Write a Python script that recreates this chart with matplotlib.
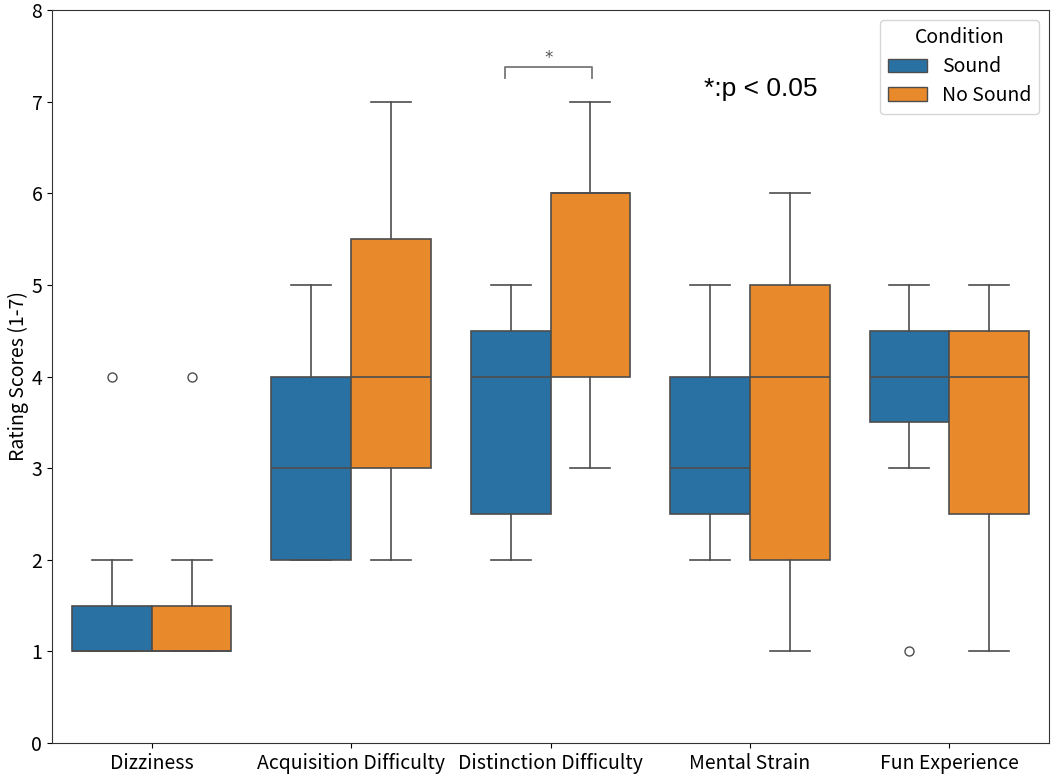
import matplotlib
matplotlib.use("Agg")
import matplotlib.pyplot as plt
from matplotlib.patches import Patch

categories = ["Dizziness", "Acquisition Difficulty", "Distinction Difficulty",
              "Mental Strain", "Fun Experience"]
conditions = ["Sound", "No Sound"]

# per condition: whisker low, Q1, median, Q3, whisker high, fliers
sound_whislo = [1, 2, 2, 2, 3]
sound_q1 = [1, 2, 2.5, 2.5, 3.5]
sound_med = [1, 3, 4, 3, 4]
sound_q3 = [1.5, 4, 4.5, 4, 4.5]
sound_whishi = [2, 5, 5, 5, 5]
sound_fliers = [[4], [], [], [], [1]]

nosound_whislo = [1, 2, 3, 1, 1]
nosound_q1 = [1, 3, 4, 2, 2.5]
nosound_med = [1, 4, 6, 4, 4]
nosound_q3 = [1.5, 5.5, 6, 5, 4.5]
nosound_whishi = [2, 7, 7, 6, 5]
nosound_fliers = [[4], [], [], [], []]

colors = ["#2a71a3", "#e8892c"]
line_c = "#4d4d4d"

plt.rcParams['font.family'] = ['Noto Sans CJK JP', 'DejaVu Sans']

fig = plt.figure(figsize=(10.52, 7.77), dpi=100)
ax = fig.add_axes([52 / 1052, 1 - 743 / 777, 997 / 1052, 733 / 777])

def stats(wl, q1, med, q3, wh, fl):
    return [dict(whislo=a, q1=b, med=c, q3=d, whishi=e, fliers=f)
            for a, b, c, d, e, f in zip(wl, q1, med, q3, wh, fl)]

groups = [
    stats(sound_whislo, sound_q1, sound_med, sound_q3, sound_whishi, sound_fliers),
    stats(nosound_whislo, nosound_q1, nosound_med, nosound_q3, nosound_whishi, nosound_fliers),
]
offsets = [-0.2, 0.2]
for g, (st, off, col) in enumerate(zip(groups, offsets, colors)):
    pos = [i + off for i in range(len(categories))]
    ax.bxp(st, positions=pos, widths=0.4, patch_artist=True, manage_ticks=False,
           boxprops=dict(facecolor=col, edgecolor=line_c, linewidth=1.2),
           medianprops=dict(color=line_c, linewidth=1.2),
           whiskerprops=dict(color=line_c, linewidth=1.2),
           capprops=dict(color=line_c, linewidth=1.2),
           capwidths=0.2,
           flierprops=dict(marker='o', markerfacecolor='white', markeredgecolor=line_c,
                           markersize=6.5, markeredgewidth=1.0))

ax.set_xlim(-0.5, 4.5)
ax.set_ylim(0, 8)
ax.set_xticks(range(len(categories)))
ax.set_xticklabels(categories, fontsize=14)
ax.tick_params(axis='y', labelsize=14)
ax.set_ylabel("Rating Scores (1-7)", fontsize=14, labelpad=2)
for s in ax.spines.values():
    s.set_color("#333333")

# significance bracket
ax.plot([1.77, 1.77, 2.21, 2.21], [7.26, 7.38, 7.38, 7.26], color="#777777", lw=1.3)
ax.text(1.99, 7.38, "*", ha='center', va='bottom', fontsize=12, color="#555555",
        family=['DejaVu Sans'])
ax.text(2.77, 7.14, "*:p < 0.05", ha='left', va='center', fontsize=19,
        family=['Liberation Sans'], color='black')

handles = [Patch(facecolor=c, edgecolor=line_c, label=l) for c, l in zip(colors, conditions)]
leg = ax.legend(handles=handles, title="Condition", loc='upper right', fontsize=14,
                title_fontsize=14, frameon=True, labelspacing=0.4)

fig.savefig("out.png", dpi=100)
